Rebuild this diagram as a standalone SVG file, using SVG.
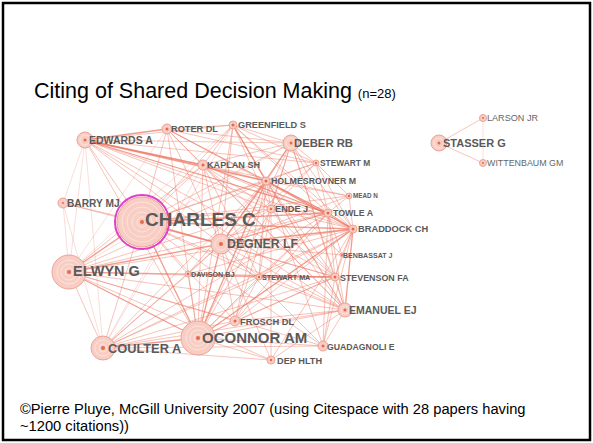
<svg xmlns="http://www.w3.org/2000/svg" width="593" height="443" viewBox="0 0 593 443">
<style>
.frame{fill:#fff;stroke:#000;stroke-width:2.5}
.title{font-family:"Liberation Sans",Arial,sans-serif;fill:#000}
.foot{font-family:"Liberation Sans",Arial,sans-serif;font-size:14.7px;fill:#000}
.e line{stroke:#ec7a66;stroke-width:0.9;stroke-opacity:0.5}
.e .s{stroke-width:1.3;stroke-opacity:0.75}
.e .f{stroke-opacity:0.28}
.halo{fill:#f8cdc3;stroke:#eba496;stroke-width:1}
.ring{fill:none;stroke:#fde8e2;stroke-width:0.8}
.dot{fill:#e8694a}
.lbl{font-family:"Liberation Sans",Arial,sans-serif;font-weight:bold;fill:#5a5a5a}
.lr{font-family:"Liberation Sans",Arial,sans-serif;fill:#666}
</style>
<rect class="frame" x="3" y="3" width="587" height="437"/>
<text class="title" x="34" y="98" font-size="21.5">Citing of Shared Decision Making <tspan font-size="13">(n=28)</tspan></text>
<g class="e" id="connectors">
<line x1="439" y1="143" x2="483" y2="118"/>
<line x1="439" y1="143" x2="483" y2="163"/>
<line class="f" x1="483" y1="118" x2="483" y2="163"/>
<line class="s" x1="85" y1="140" x2="167" y2="129"/>
<line x1="85" y1="140" x2="233" y2="125"/>
<line class="s" x1="85" y1="140" x2="203" y2="165"/>
<line class="s" x1="85" y1="140" x2="266" y2="181"/>
<line x1="85" y1="140" x2="271" y2="209"/>
<line class="s" x1="85" y1="140" x2="328" y2="213"/>
<line x1="85" y1="140" x2="353" y2="229"/>
<line x1="85" y1="140" x2="221" y2="244"/>
<line x1="85" y1="140" x2="142" y2="222"/>
<line class="f" x1="85" y1="140" x2="69" y2="272"/>
<line class="f" x1="85" y1="140" x2="103" y2="348"/>
<line class="f" x1="85" y1="140" x2="63" y2="203"/>
<line x1="85" y1="140" x2="316" y2="163"/>
<line x1="85" y1="140" x2="291" y2="143"/>
<line x1="85" y1="140" x2="349" y2="196"/>
<line x1="85" y1="140" x2="335" y2="277"/>
<line x1="85" y1="140" x2="345" y2="310"/>
<line x1="85" y1="140" x2="198" y2="338"/>
<line x1="167" y1="129" x2="233" y2="125"/>
<line x1="167" y1="129" x2="203" y2="165"/>
<line x1="167" y1="129" x2="266" y2="181"/>
<line x1="167" y1="129" x2="291" y2="143"/>
<line x1="167" y1="129" x2="142" y2="222"/>
<line x1="167" y1="129" x2="221" y2="244"/>
<line x1="167" y1="129" x2="328" y2="213"/>
<line x1="167" y1="129" x2="353" y2="229"/>
<line x1="167" y1="129" x2="345" y2="310"/>
<line x1="167" y1="129" x2="198" y2="338"/>
<line class="f" x1="167" y1="129" x2="69" y2="272"/>
<line x1="167" y1="129" x2="316" y2="163"/>
<line x1="233" y1="125" x2="203" y2="165"/>
<line class="s" x1="233" y1="125" x2="266" y2="181"/>
<line x1="233" y1="125" x2="291" y2="143"/>
<line x1="233" y1="125" x2="316" y2="163"/>
<line x1="233" y1="125" x2="271" y2="209"/>
<line x1="233" y1="125" x2="142" y2="222"/>
<line x1="233" y1="125" x2="221" y2="244"/>
<line x1="233" y1="125" x2="353" y2="229"/>
<line x1="233" y1="125" x2="328" y2="213"/>
<line x1="233" y1="125" x2="345" y2="310"/>
<line x1="233" y1="125" x2="198" y2="338"/>
<line class="f" x1="233" y1="125" x2="103" y2="348"/>
<line class="f" x1="233" y1="125" x2="69" y2="272"/>
<line x1="291" y1="143" x2="203" y2="165"/>
<line class="s" x1="291" y1="143" x2="266" y2="181"/>
<line x1="291" y1="143" x2="316" y2="163"/>
<line x1="291" y1="143" x2="271" y2="209"/>
<line x1="291" y1="143" x2="328" y2="213"/>
<line x1="291" y1="143" x2="353" y2="229"/>
<line x1="291" y1="143" x2="142" y2="222"/>
<line x1="291" y1="143" x2="221" y2="244"/>
<line x1="291" y1="143" x2="335" y2="277"/>
<line x1="291" y1="143" x2="345" y2="310"/>
<line x1="291" y1="143" x2="198" y2="338"/>
<line class="f" x1="291" y1="143" x2="69" y2="272"/>
<line x1="291" y1="143" x2="235" y2="321"/>
<line x1="203" y1="165" x2="266" y2="181"/>
<line x1="203" y1="165" x2="271" y2="209"/>
<line class="s" x1="203" y1="165" x2="328" y2="213"/>
<line x1="203" y1="165" x2="353" y2="229"/>
<line x1="203" y1="165" x2="142" y2="222"/>
<line x1="203" y1="165" x2="221" y2="244"/>
<line x1="203" y1="165" x2="259" y2="277"/>
<line x1="203" y1="165" x2="335" y2="277"/>
<line x1="203" y1="165" x2="345" y2="310"/>
<line x1="203" y1="165" x2="198" y2="338"/>
<line class="f" x1="203" y1="165" x2="103" y2="348"/>
<line x1="203" y1="165" x2="69" y2="272"/>
<line x1="316" y1="163" x2="266" y2="181"/>
<line x1="316" y1="163" x2="349" y2="196"/>
<line x1="316" y1="163" x2="328" y2="213"/>
<line x1="316" y1="163" x2="353" y2="229"/>
<line x1="316" y1="163" x2="271" y2="209"/>
<line x1="316" y1="163" x2="221" y2="244"/>
<line x1="316" y1="163" x2="142" y2="222"/>
<line x1="266" y1="181" x2="349" y2="196"/>
<line x1="266" y1="181" x2="271" y2="209"/>
<line class="s" x1="266" y1="181" x2="328" y2="213"/>
<line class="s" x1="266" y1="181" x2="353" y2="229"/>
<line x1="266" y1="181" x2="342" y2="255"/>
<line x1="266" y1="181" x2="335" y2="277"/>
<line x1="266" y1="181" x2="259" y2="277"/>
<line class="s" x1="266" y1="181" x2="221" y2="244"/>
<line x1="266" y1="181" x2="142" y2="222"/>
<line x1="266" y1="181" x2="188" y2="274"/>
<line x1="266" y1="181" x2="235" y2="321"/>
<line x1="266" y1="181" x2="345" y2="310"/>
<line class="s" x1="266" y1="181" x2="198" y2="338"/>
<line x1="266" y1="181" x2="103" y2="348"/>
<line x1="266" y1="181" x2="69" y2="272"/>
<line x1="266" y1="181" x2="323" y2="346"/>
<line x1="349" y1="196" x2="328" y2="213"/>
<line x1="349" y1="196" x2="353" y2="229"/>
<line x1="349" y1="196" x2="221" y2="244"/>
<line x1="349" y1="196" x2="142" y2="222"/>
<line x1="271" y1="209" x2="328" y2="213"/>
<line x1="271" y1="209" x2="353" y2="229"/>
<line x1="271" y1="209" x2="221" y2="244"/>
<line x1="271" y1="209" x2="142" y2="222"/>
<line x1="271" y1="209" x2="259" y2="277"/>
<line x1="271" y1="209" x2="335" y2="277"/>
<line x1="271" y1="209" x2="345" y2="310"/>
<line x1="271" y1="209" x2="198" y2="338"/>
<line x1="271" y1="209" x2="69" y2="272"/>
<line x1="271" y1="209" x2="271" y2="360"/>
<line class="s" x1="328" y1="213" x2="353" y2="229"/>
<line x1="328" y1="213" x2="342" y2="255"/>
<line x1="328" y1="213" x2="335" y2="277"/>
<line x1="328" y1="213" x2="345" y2="310"/>
<line class="s" x1="328" y1="213" x2="221" y2="244"/>
<line class="s" x1="328" y1="213" x2="142" y2="222"/>
<line x1="328" y1="213" x2="259" y2="277"/>
<line x1="328" y1="213" x2="198" y2="338"/>
<line x1="328" y1="213" x2="69" y2="272"/>
<line x1="328" y1="213" x2="103" y2="348"/>
<line x1="328" y1="213" x2="235" y2="321"/>
<line x1="328" y1="213" x2="323" y2="346"/>
<line x1="353" y1="229" x2="342" y2="255"/>
<line x1="353" y1="229" x2="335" y2="277"/>
<line class="s" x1="353" y1="229" x2="345" y2="310"/>
<line class="s" x1="353" y1="229" x2="221" y2="244"/>
<line class="s" x1="353" y1="229" x2="142" y2="222"/>
<line x1="353" y1="229" x2="259" y2="277"/>
<line x1="353" y1="229" x2="188" y2="274"/>
<line class="s" x1="353" y1="229" x2="198" y2="338"/>
<line x1="353" y1="229" x2="103" y2="348"/>
<line x1="353" y1="229" x2="69" y2="272"/>
<line x1="353" y1="229" x2="235" y2="321"/>
<line x1="353" y1="229" x2="323" y2="346"/>
<line x1="353" y1="229" x2="271" y2="360"/>
<line x1="342" y1="255" x2="335" y2="277"/>
<line x1="342" y1="255" x2="221" y2="244"/>
<line x1="335" y1="277" x2="345" y2="310"/>
<line class="s" x1="335" y1="277" x2="259" y2="277"/>
<line x1="335" y1="277" x2="221" y2="244"/>
<line x1="335" y1="277" x2="142" y2="222"/>
<line x1="335" y1="277" x2="198" y2="338"/>
<line x1="335" y1="277" x2="103" y2="348"/>
<line x1="335" y1="277" x2="69" y2="272"/>
<line x1="335" y1="277" x2="323" y2="346"/>
<line x1="335" y1="277" x2="235" y2="321"/>
<line x1="259" y1="277" x2="221" y2="244"/>
<line x1="259" y1="277" x2="142" y2="222"/>
<line x1="259" y1="277" x2="188" y2="274"/>
<line x1="259" y1="277" x2="345" y2="310"/>
<line x1="259" y1="277" x2="198" y2="338"/>
<line x1="259" y1="277" x2="235" y2="321"/>
<line x1="259" y1="277" x2="69" y2="272"/>
<line x1="259" y1="277" x2="103" y2="348"/>
<line x1="188" y1="274" x2="69" y2="272"/>
<line x1="188" y1="274" x2="142" y2="222"/>
<line x1="188" y1="274" x2="221" y2="244"/>
<line x1="188" y1="274" x2="198" y2="338"/>
<line x1="188" y1="274" x2="103" y2="348"/>
<line x1="188" y1="274" x2="335" y2="277"/>
<line class="s" x1="221" y1="244" x2="142" y2="222"/>
<line class="s" x1="221" y1="244" x2="69" y2="272"/>
<line class="s" x1="221" y1="244" x2="198" y2="338"/>
<line x1="221" y1="244" x2="103" y2="348"/>
<line x1="221" y1="244" x2="345" y2="310"/>
<line x1="221" y1="244" x2="235" y2="321"/>
<line x1="221" y1="244" x2="323" y2="346"/>
<line x1="221" y1="244" x2="271" y2="360"/>
<line x1="221" y1="244" x2="63" y2="203"/>
<line class="s" x1="142" y1="222" x2="69" y2="272"/>
<line class="s" x1="142" y1="222" x2="198" y2="338"/>
<line x1="142" y1="222" x2="103" y2="348"/>
<line x1="142" y1="222" x2="63" y2="203"/>
<line x1="142" y1="222" x2="345" y2="310"/>
<line x1="142" y1="222" x2="235" y2="321"/>
<line x1="142" y1="222" x2="323" y2="346"/>
<line class="s" x1="69" y1="272" x2="198" y2="338"/>
<line x1="69" y1="272" x2="103" y2="348"/>
<line class="f" x1="69" y1="272" x2="63" y2="203"/>
<line x1="69" y1="272" x2="345" y2="310"/>
<line x1="69" y1="272" x2="323" y2="346"/>
<line x1="69" y1="272" x2="235" y2="321"/>
<line x1="69" y1="272" x2="271" y2="360"/>
<line class="s" x1="198" y1="338" x2="103" y2="348"/>
<line x1="198" y1="338" x2="345" y2="310"/>
<line x1="198" y1="338" x2="323" y2="346"/>
<line x1="198" y1="338" x2="235" y2="321"/>
<line x1="198" y1="338" x2="271" y2="360"/>
<line x1="103" y1="348" x2="345" y2="310"/>
<line x1="103" y1="348" x2="323" y2="346"/>
<line x1="103" y1="348" x2="271" y2="360"/>
<line x1="103" y1="348" x2="235" y2="321"/>
<line x1="345" y1="310" x2="323" y2="346"/>
<line x1="345" y1="310" x2="235" y2="321"/>
<line x1="345" y1="310" x2="271" y2="360"/>
<line class="f" x1="63" y1="203" x2="103" y2="348"/>
</g>
<g id="n-charles"><circle cx="142" cy="222" r="27" fill="none" stroke="#e040c8" stroke-width="2"/><circle class="halo" cx="142" cy="222" r="25"/><circle class="ring" cx="142" cy="222" r="20"/><circle class="ring" cx="142" cy="222" r="15"/><circle class="ring" cx="142" cy="222" r="10"/><circle class="ring" cx="142" cy="222" r="5"/><circle class="dot" cx="142" cy="222" r="2"/><text class="lbl" x="145" y="226" font-size="19">CHARLES C</text></g>
<g id="n-elwyn"><circle class="halo" cx="69" cy="272" r="17"/><circle class="ring" cx="69" cy="272" r="12"/><circle class="ring" cx="69" cy="272" r="8"/><circle class="ring" cx="69" cy="272" r="4"/><circle class="dot" cx="69" cy="272" r="2"/><text class="lbl" x="73" y="276" font-size="14.5">ELWYN G</text></g>
<g id="n-oconnor"><circle class="halo" cx="198" cy="338" r="17"/><circle class="ring" cx="198" cy="338" r="12"/><circle class="ring" cx="198" cy="338" r="8"/><circle class="ring" cx="198" cy="338" r="4"/><circle class="dot" cx="198" cy="338" r="2"/><text class="lbl" x="202" y="343" font-size="15">OCONNOR AM</text></g>
<g id="n-coulter"><circle class="halo" cx="103" cy="348" r="12"/><circle class="ring" cx="103" cy="348" r="8"/><circle class="ring" cx="103" cy="348" r="4"/><circle class="dot" cx="103" cy="348" r="2"/><text class="lbl" x="108" y="353" font-size="12.8">COULTER A</text></g>
<g id="n-degner"><circle class="halo" cx="221" cy="244" r="10"/><circle class="ring" cx="221" cy="244" r="6"/><circle class="dot" cx="221" cy="244" r="2"/><text class="lbl" x="227" y="248" font-size="12.3">DEGNER LF</text></g>
<g id="n-edwards"><circle class="halo" cx="85" cy="140" r="8"/><circle class="ring" cx="85" cy="140" r="5"/><circle class="dot" cx="85" cy="140" r="1.5"/><text class="lbl" x="89" y="144" font-size="10.5">EDWARDS A</text></g>
<g id="n-deber"><circle class="halo" cx="291" cy="143" r="8"/><circle class="ring" cx="291" cy="143" r="5"/><circle class="dot" cx="291" cy="143" r="1.5"/><text class="lbl" x="294" y="147" font-size="11.3">DEBER RB</text></g>
<g id="n-stasser"><circle class="halo" cx="439" cy="143" r="8"/><circle class="ring" cx="439" cy="143" r="5"/><circle class="dot" cx="439" cy="143" r="1.5"/><text class="lbl" x="443" y="147" font-size="11">STASSER G</text></g>
<g id="n-emanuel"><circle class="halo" cx="345" cy="310" r="7"/><circle class="ring" cx="345" cy="310" r="4"/><circle class="dot" cx="345" cy="310" r="1.5"/><text class="lbl" x="349" y="314" font-size="10.5">EMANUEL EJ</text></g>
<g id="n-barry"><circle class="halo" cx="63" cy="203" r="5"/><circle class="dot" cx="63" cy="203" r="1"/><text class="lbl" x="67" y="207" font-size="10.2">BARRY MJ</text></g>
<g id="n-roter"><circle class="halo" cx="167" cy="129" r="5"/><circle class="dot" cx="167" cy="129" r="1.5"/><text class="lbl" x="171" y="132" font-size="9.2">ROTER DL</text></g>
<g id="n-greenfield"><circle class="halo" cx="233" cy="125" r="4"/><circle class="dot" cx="233" cy="125" r="1.5"/><text class="lbl" x="238" y="128" font-size="9.2">GREENFIELD S</text></g>
<g id="n-kaplan"><circle class="halo" cx="203" cy="165" r="5"/><circle class="dot" cx="203" cy="165" r="1.5"/><text class="lbl" x="207" y="168" font-size="9.1">KAPLAN SH</text></g>
<g id="n-stewartm"><circle class="halo" cx="316" cy="163" r="3"/><circle class="dot" cx="316" cy="163" r="1.2"/><text class="lbl" x="320" y="166" font-size="8.4">STEWART M</text></g>
<g id="n-holmes"><circle class="halo" cx="266" cy="181" r="4"/><circle class="dot" cx="266" cy="181" r="1.5"/><text class="lbl" x="271" y="184" font-size="8.8">HOLMESROVNER M</text></g>
<g id="n-mead"><circle class="halo" cx="349" cy="196" r="3"/><circle class="dot" cx="349" cy="196" r="1.2"/><text class="lbl" x="353" y="198" font-size="6.3">MEAD N</text></g>
<g id="n-ende"><circle class="halo" cx="271" cy="209" r="4"/><circle class="dot" cx="271" cy="209" r="1.2"/><text class="lbl" x="275" y="212" font-size="9.2">ENDE J</text></g>
<g id="n-towle"><circle class="halo" cx="328" cy="213" r="4"/><circle class="dot" cx="328" cy="213" r="1.5"/><text class="lbl" x="333" y="216" font-size="8.8">TOWLE A</text></g>
<g id="n-braddock"><circle class="halo" cx="353" cy="229" r="4"/><circle class="dot" cx="353" cy="229" r="1.5"/><text class="lbl" x="358" y="232" font-size="9.3">BRADDOCK CH</text></g>
<g id="n-benbassat"><circle class="halo" cx="342" cy="255" r="2"/><circle class="dot" cx="342" cy="255" r="1"/><text class="lbl" x="343" y="258" font-size="7.1">BENBASSAT J</text></g>
<g id="n-stevenson"><circle class="halo" cx="335" cy="277" r="4"/><circle class="dot" cx="335" cy="277" r="1.5"/><text class="lbl" x="340" y="281" font-size="8.9">STEVENSON FA</text></g>
<g id="n-stewartma"><circle class="halo" cx="259" cy="277" r="3"/><circle class="dot" cx="259" cy="277" r="1.2"/><text class="lbl" x="262" y="280" font-size="7.2">STEWART MA</text></g>
<g id="n-davison"><circle class="halo" cx="188" cy="274" r="3"/><circle class="dot" cx="188" cy="274" r="1.2"/><text class="lbl" x="191" y="277" font-size="7.2">DAVISON BJ</text></g>
<g id="n-frosch"><circle class="halo" cx="235" cy="321" r="5"/><circle class="dot" cx="235" cy="321" r="1.5"/><text class="lbl" x="240" y="325" font-size="9.3">FROSCH DL</text></g>
<g id="n-guadagnoli"><circle class="halo" cx="323" cy="346" r="5"/><circle class="dot" cx="323" cy="346" r="1.5"/><text class="lbl" x="327" y="350" font-size="8.7">GUADAGNOLI E</text></g>
<g id="n-dephlth"><circle class="halo" cx="271" cy="360" r="4"/><circle class="dot" cx="271" cy="360" r="1.2"/><text class="lbl" x="277" y="364" font-size="9.2">DEP HLTH</text></g>
<g id="n-larson"><circle class="halo" cx="483" cy="118" r="3.5"/><circle class="dot" cx="483" cy="118" r="1"/><text class="lr" x="487" y="121" font-size="9.1">LARSON JR</text></g>
<g id="n-wittenbaum"><circle class="halo" cx="483" cy="163" r="3.5"/><circle class="dot" cx="483" cy="163" r="1"/><text class="lr" x="487" y="166" font-size="8.9">WITTENBAUM GM</text></g>
<text class="foot" x="20" y="414">©Pierre Pluye, McGill University 2007 (using Citespace with 28 papers having</text>
<text class="foot" x="20" y="431">~1200 citations))</text>
</svg>
